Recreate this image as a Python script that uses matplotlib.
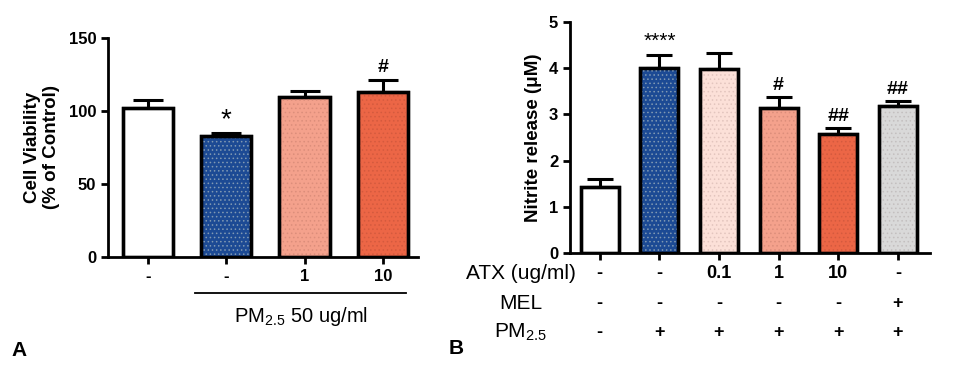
import matplotlib
matplotlib.use("Agg")
import matplotlib.pyplot as plt
import matplotlib.transforms as mtrans
import matplotlib.colors as mcolors

plt.rcParams['font.family'] = ['Liberation Sans', 'DejaVu Sans']
plt.rcParams['mathtext.default'] = 'regular'
plt.rcParams['hatch.linewidth'] = 0.6

# panel A: cell viability
a_labels = ['-', '-', '1', '10']
a_values = [102.3, 83.0, 109.8, 112.8]
a_err = [5.2, 2.0, 4.1, 8.2]
a_colors = ['#ffffff', '#1c4a94', '#f4a18c', '#ec6646']
a_marks = ['', '*', '', '#']

# panel B: nitrite release
b_values = [1.44, 4.00, 3.97, 3.13, 2.57, 3.17]
b_err = [0.16, 0.28, 0.35, 0.25, 0.14, 0.12]
b_colors = ['#ffffff', '#1c4a94', '#fce0d8', '#f4a18c', '#ec6646', '#d9d9d9']
b_marks = ['', '****', '', '#', '##', '##']
b_atx = ['-', '-', '0.1', '1', '10', '-']
b_mel = ['-', '-', '-', '-', '-', '+']
b_pm = ['-', '+', '+', '+', '+', '+']

fig = plt.figure(figsize=(9.72, 3.71), dpi=100)
axA = fig.add_axes([0.1111, 0.3073, 0.319, 0.5903])
axB = fig.add_axes([0.5864, 0.3172, 0.3704, 0.6243])


def dot_color(c):
    # speckle colour: blue bar gets lighter dots, the rest slightly darker ones
    r, g, b = mcolors.to_rgb(c)
    if c == '#1c4a94':
        return (0.5, 0.6, 0.7)
    return (r * 0.9, g * 0.88, b * 0.88)


def style_axis(ax):
    for s in ['top', 'right']:
        ax.spines[s].set_visible(False)
    for s in ['left', 'bottom']:
        ax.spines[s].set_linewidth(2)
    ax.tick_params(width=2, length=5, labelsize=12)
    for t in ax.get_yticklabels():
        t.set_fontweight('bold')


def draw_bars(ax, values, err, colors, marks, capsize, gap):
    x = list(range(len(values)))
    ax.errorbar(x, values, yerr=[[0] * len(values), err], fmt='none',
                ecolor='black', elinewidth=2.2, capsize=capsize, capthick=2.2, zorder=1)
    ax.bar(x, values, width=0.64, color=colors, edgecolor='black', linewidth=2.4, zorder=2)
    # dotted texture like the original
    for i, c in enumerate(colors):
        if c == '#ffffff':
            continue
        ax.bar(x[i], values[i], width=0.6, facecolor='none', edgecolor=dot_color(c),
               linewidth=0, hatch='....', zorder=2.5)
    ax.bar(x, values, width=0.64, facecolor='none', edgecolor='black', linewidth=2.4, zorder=3)
    for i, m in enumerate(marks):
        if not m:
            continue
        if m == '*':
            ax.text(i, values[i] + err[i] + gap[1], m, ha='center', va='bottom', fontsize=20)
        elif m == '****':
            ax.text(i, values[i] + err[i] + gap[1], m, ha='center', va='bottom', fontsize=15)
        else:
            ax.text(i, values[i] + err[i] + gap[0], m, ha='center', va='bottom',
                    fontsize=14, fontweight='bold')
    return x


# ---- A ----
x = draw_bars(axA, a_values, a_err, a_colors, a_marks, 10.5, (3, 0))
axA.set_ylim(0, 150)
axA.set_yticks([0, 50, 100, 150])
axA.set_xlim(-0.51, 3.45)
axA.set_xticks(x)
axA.set_xticklabels(a_labels, fontweight='bold', fontsize=13)
style_axis(axA)
axA.set_ylabel('Cell Viability\n(% of Control)', fontweight='bold', fontsize=13.5, labelpad=6)
trA = mtrans.blended_transform_factory(axA.transData, axA.transAxes)
axA.plot([0.6, 3.3], [-0.165, -0.165], color='black', lw=1.3, transform=trA, clip_on=False)
axA.text(1.95, -0.27, r'PM$_{2.5}$ 50 ug/ml', ha='center', va='center',
         fontsize=14.5, transform=trA)
fig.text(0.012, 0.04, 'A', fontsize=15, fontweight='bold')

# ---- B ----
x = draw_bars(axB, b_values, b_err, b_colors, b_marks, 9.5, (0.06, 0.1))
axB.set_ylim(0, 5)
axB.set_yticks([0, 1, 2, 3, 4, 5])
axB.set_xlim(-0.5, 5.54)
axB.set_xticks(x)
axB.set_xticklabels([])
style_axis(axB)
axB.set_ylabel('Nitrite release (μM)', fontweight='bold', fontsize=13.5, labelpad=5)
trB = mtrans.blended_transform_factory(axB.transData, axB.transAxes)
rows = [('ATX (ug/ml)', b_atx, -0.085), ('MEL', b_mel, -0.215), (r'PM$_{2.5}$', b_pm, -0.34)]
for name, vals, yy in rows:
    axB.text(-1.33, yy, name, ha='center', va='center', fontsize=15, transform=trB)
    for i, v in enumerate(vals):
        axB.text(i, yy, v, ha='center', va='center', fontsize=13, fontweight='bold', transform=trB)
fig.text(0.462, 0.045, 'B', fontsize=15, fontweight='bold')

fig.savefig('out.png', dpi=100)
